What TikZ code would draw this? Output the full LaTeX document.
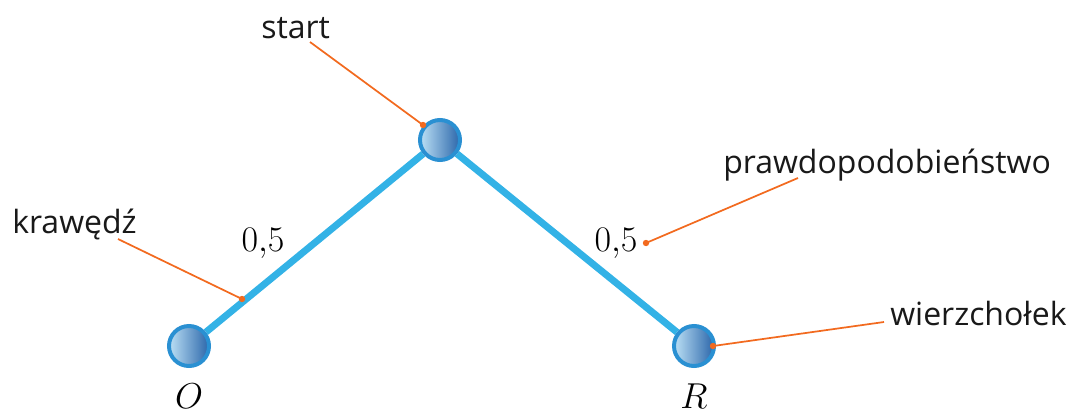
\RequirePackage{fix-cm}
\documentclass[tikz,border=0pt]{standalone}
\usepackage{fontspec}
\newfontfamily\labelfont{Open Sans}
\usetikzlibrary{backgrounds}
\definecolor{edgeblue}{HTML}{33B2E6}
\definecolor{rimblue}{HTML}{2A90D2}
\definecolor{lightfill}{HTML}{BCE0F5}
\definecolor{darkfill}{HTML}{2B66AA}
\definecolor{pointer}{HTML}{F26A1F}
\tikzset{
  vertex/.style={circle, minimum size=40*0.75pt, inner sep=0pt, draw=rimblue, line width=3pt,
    left color=lightfill, right color=darkfill},
  edge/.style={draw=edgeblue, line width=5.2pt},
  prob/.style={font=\fontsize{27}{30}\selectfont, inner sep=0pt},
  vname/.style={font=\fontsize{27}{30}\selectfont, inner sep=0pt, anchor=base},
  tag/.style={font=\labelfont\fontsize{24}{28}\selectfont, inner sep=0pt, anchor=base west, text=black!90},
  pointerline/.style={draw=pointer, line width=1.3pt},
  pointerdot/.style={fill=pointer},
}
\begin{document}
\begin{tikzpicture}[x=0.75pt,y=-0.75pt]
\useasboundingbox (0,0) rectangle (1074,408);
% vertices
\node[vertex] (S) at (440,140) {};
\node[vertex] (O) at (189,346) {};
\node[vertex] (R) at (694,346) {};
% edges
\begin{scope}[on background layer]
\draw[edge] (S) -- (O);
\draw[edge] (S) -- (R);
\end{scope}
% probabilities
\node[prob] (pL) at (263,243) {$0{,}5$};
\node[prob] (pR) at (616,243) {$0{,}5$};
% vertex names
\node[vname] (nO) at (189,408) {$O$};
\node[vname] (nR) at (694,408) {$R$};
% tags
\node[tag] (tStart) at (261,38) {start};
\node[tag] (tEdge) at (12,233) {krawędź};
\node[tag] (tProb) at (723,173) {prawdopodobieństwo};
\node[tag] (tVert) at (890,325) {wierzchołek};
% pointer ends
\coordinate (aStart) at (310,42);
\coordinate (dStart) at (423,125);
\coordinate (aEdge) at (118,239);
\coordinate (dEdge) at (242,299);
\coordinate (aProb) at (798,178);
\coordinate (dProb) at (646,243);
\coordinate (aVert) at (884,322);
\coordinate (dVert) at (713,346);
\foreach \a/\d in {aStart/dStart, aEdge/dEdge, aProb/dProb, aVert/dVert}{
  \draw[pointerline] (\a) -- (\d);
  \fill[pointerdot] (\d) circle (3.2);
}
\end{tikzpicture}
\end{document}
